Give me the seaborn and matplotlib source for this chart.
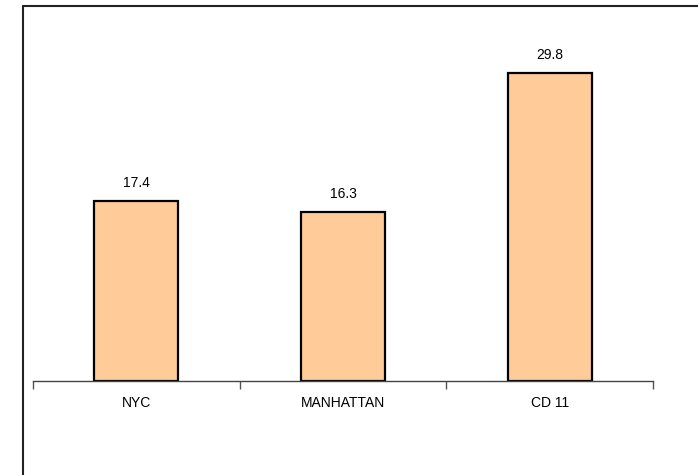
import matplotlib.pyplot as plt
import seaborn as sns
from matplotlib.lines import Line2D

areas = ["NYC", "MANHATTAN", "CD 11"]
values = [17.4, 16.3, 29.8]

sns.set_style("white")
plt.rcParams["font.family"] = ["Liberation Sans", "DejaVu Sans"]
plt.rcParams["text.color"] = "black"
plt.rcParams["xtick.color"] = "black"

fig = plt.figure(figsize=(6.98, 4.75), dpi=100)
ax = fig.add_axes([33 / 698, 94 / 475, 620 / 698, 360 / 475])

sns.barplot(x=areas, y=values, color="#FFCC99", width=0.405,
            edgecolor="black", linewidth=1.6, saturation=1, ax=ax)

for i, v in enumerate(values):
    ax.annotate(f"{v:.1f}", (i, v), xytext=(0, 8), textcoords="offset points",
                ha="center", va="bottom", fontsize=10, color="black")

ax.set_xlim(-0.5, 2.5)
ax.set_ylim(0, 34.8)
ax.set_yticks([])
ax.set_xticks(range(len(areas)))
ax.set_xticklabels(areas, fontsize=10, color="black")
ax.set_xticks([-0.5, 0.5, 1.5, 2.5], minor=True)
ax.tick_params(axis="x", which="major", length=0, pad=11)
ax.tick_params(axis="x", which="minor", bottom=True, length=6, width=1,
               color="#555555", direction="out")
for s in ["top", "right", "left"]:
    ax.spines[s].set_visible(False)
ax.spines["bottom"].set_color("#444444")
ax.spines["bottom"].set_linewidth(1)
ax.set_xlabel("")
ax.set_ylabel("")

# outer chart border (only top and left fall inside the image)
fig.add_artist(Line2D([22.5 / 698, 22.5 / 698], [0, 1 - 5.5 / 475],
                      transform=fig.transFigure, color="#222222", lw=1.5))
fig.add_artist(Line2D([22.5 / 698, 1], [1 - 5.5 / 475, 1 - 5.5 / 475],
                      transform=fig.transFigure, color="#222222", lw=1.5))

fig.savefig("out.png", dpi=100)
